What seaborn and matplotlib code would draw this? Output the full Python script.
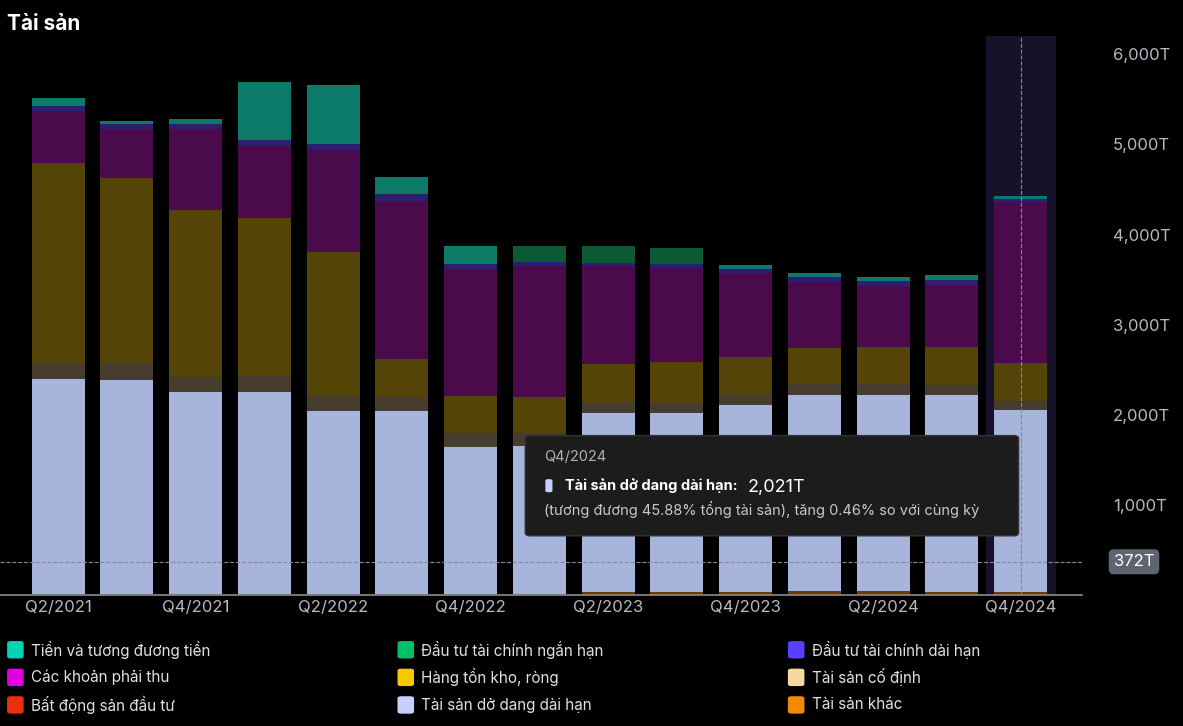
import numpy as np
import pandas as pd
import matplotlib.pyplot as plt
import seaborn as sns
from matplotlib.patches import FancyBboxPatch

quarters = ['Q2/2021','Q3/2021','Q4/2021','Q1/2022','Q2/2022','Q3/2022','Q4/2022','Q1/2023',
            'Q2/2023','Q3/2023','Q4/2023','Q1/2024','Q2/2024','Q3/2024','Q4/2024']

# values in T (ty), bottom of stack first
tai_san_khac = [10, 10, 10, 10, 10, 10, 10, 15, 40, 40, 40, 45, 45, 40, 35]
bds_dau_tu = [0]*15
do_dang = [2390, 2380, 2240, 2240, 2030, 2030, 1640, 1640, 1980, 1980, 2070, 2175, 2175, 2180, 2021]
co_dinh = [180, 190, 170, 180, 170, 160, 150, 150, 120, 120, 120, 120, 120, 110, 100]
ton_kho = [2210, 2050, 1850, 1760, 1600, 420, 410, 400, 420, 450, 410, 400, 410, 420, 420]
phai_thu = [580, 540, 900, 790, 1130, 1750, 1410, 1450, 1090, 1040, 930, 740, 680, 690, 1790]
dt_dai_han = [60, 60, 60, 70, 70, 80, 50, 40, 40, 50, 50, 50, 60, 60, 30]
dt_ngan_han = [0, 0, 0, 0, 0, 0, 0, 180, 180, 170, 0, 0, 0, 0, 0]
tien = [90, 30, 50, 640, 650, 190, 200, 0, 0, 0, 40, 50, 40, 50, 30]

layers = [
    ('Tài sản khác', tai_san_khac, '#f08a00', '#6a3c08'),
    ('Bất động sản đầu tư', bds_dau_tu, '#e83010', '#6a1a10'),
    ('Tài sản dở dang dài hạn', do_dang, '#c5d0ff', '#a7b4dc'),
    ('Tài sản cố định', co_dinh, '#f5d9a0', '#463d2f'),
    ('Hàng tồn kho, ròng', ton_kho, '#f5c800', '#554407'),
    ('Các khoản phải thu', phai_thu, '#e000e0', '#4a0a4c'),
    ('Đầu tư tài chính dài hạn', dt_dai_han, '#5b3fff', '#2c1f70'),
    ('Đầu tư tài chính ngắn hạn', dt_ngan_han, '#00c06a', '#0b5a33'),
    ('Tiền và tương đương tiền', tien, '#00d4b4', '#0c7a68'),
]

sns.set_theme(style='dark')
plt.rcParams['font.family'] = ['Inter', 'DejaVu Sans']

fig = plt.figure(figsize=(11.83, 7.26), dpi=100, facecolor='black')
ax = fig.add_axes([0.0, 0.18, 0.915, 0.77], facecolor='black')

cum = np.cumsum(np.array([l[1] for l in layers]), axis=0)
x = np.arange(len(quarters))
ax.axvspan(13.5, 14.5, color='#15122a', zorder=0)
for i in range(len(layers) - 1, -1, -1):
    df = pd.DataFrame({'q': quarters, 'v': cum[i]})
    sns.barplot(data=df, x='q', y='v', color=layers[i][3], saturation=1, width=0.77,
                linewidth=0, edgecolor='none', ax=ax, zorder=2)

ax.set_xlim(-0.845, 14.9)
ax.set_ylim(0, 6200)
ax.yaxis.tick_right()
ax.set_yticks([1000, 2000, 3000, 4000, 5000, 6000])
ax.set_yticklabels(['1,000T', '2,000T', '3,000T', '4,000T', '5,000T', '6,000T'])
ax.set_xticks(x[::2])
ax.set_xticklabels(quarters[::2])
ax.tick_params(colors='#b8b8c0', labelsize=12, length=0)
ax.tick_params(axis='y', pad=22)
ax.set_xlabel('')
ax.set_ylabel('')
for s in ['top', 'right', 'left']:
    ax.spines[s].set_visible(False)
ax.spines['bottom'].set_color('#888888')
ax.grid(False)

ax.axvline(14, color='#888899', ls='--', lw=0.8, zorder=3)
ax.axhline(372, color='#888899', ls='--', lw=0.8, zorder=3)
ax.text(15.65, 372, '372T', color='white', fontsize=12, va='center', ha='center',
        bbox=dict(boxstyle='round,pad=0.3', fc='#5e6470', ec='none'), clip_on=False)

fig.text(0.006, 0.967, 'Tài sản', color='white', fontsize=15, fontweight='bold', va='center')

# tooltip
tip = FancyBboxPatch((0.444, 0.262), 0.417, 0.138, boxstyle='round,pad=0,rounding_size=0.004',
                     transform=fig.transFigure, fc='#1c1c1c', ec='#333333', zorder=10)
fig.patches.append(tip)
fig.text(0.46, 0.365, 'Q4/2024', color='#b0b0b0', fontsize=10.5, zorder=11)
fig.patches.append(FancyBboxPatch((0.461, 0.322), 0.006, 0.018, boxstyle='round,pad=0,rounding_size=0.002',
                                  transform=fig.transFigure, fc='#c5d0ff', ec='none', zorder=11))
fig.text(0.478, 0.325, 'Tài sản dở dang dài hạn:', color='white', fontsize=10.5, fontweight='bold', zorder=11)
fig.text(0.632, 0.322, '2,021T', color='white', fontsize=13, zorder=11)
fig.text(0.46, 0.29, '(tương đương 45.88% tổng tài sản), tăng 0.46% so với cùng kỳ',
         color='#c8c8c8', fontsize=10.5, zorder=11)

# legend
order = [8, 7, 6, 5, 4, 3, 1, 2, 0]
for k, idx in enumerate(order):
    name, _, c, _ = layers[idx]
    col, row = k % 3, k // 3
    lx = 0.006 + col * 0.33
    ly = 0.105 - row * 0.038
    fig.patches.append(FancyBboxPatch((lx, ly - 0.012), 0.014, 0.024, boxstyle='round,pad=0,rounding_size=0.003',
                                      transform=fig.transFigure, fc=c, ec='none'))
    fig.text(lx + 0.02, ly, name, color='#e0e0e0', fontsize=11, va='center')

fig.savefig('out.png', dpi=100, facecolor='black')
